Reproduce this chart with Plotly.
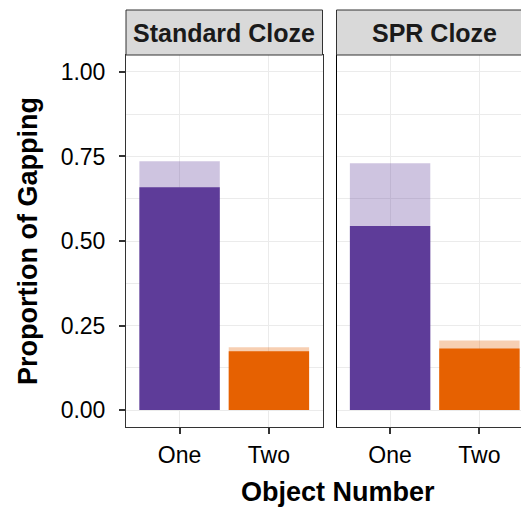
import plotly.graph_objects as go

# ---- data ----
conditions = ["Standard Cloze", "SPR Cloze"]
objects = ["One", "Two"]
object_pos = [1, 2]
total_std = [0.736, 0.186]
solid_std = [0.659, 0.174]
total_spr = [0.730, 0.206]
solid_spr = [0.544, 0.182]
y_ticks = [0, 0.25, 0.5, 0.75, 1.0]
y_minor = [0.125, 0.375, 0.625, 0.875]

solid_colors = ["#5E3C99", "#E66101"]
light_colors = ["rgba(94,60,153,0.3)", "rgba(230,97,1,0.3)"]

W, H = 521, 515
ML, MR, MT, MB = 126, 0, 10, 88
PW = W - ML - MR
PH = H - MT - MB
panel_top = 55
ydom_top = (H - MB - panel_top) / PH
left_end = 322.5
right_start = 336.5
dx1 = [0, (left_end - ML) / PW]
dx2 = [(right_start - ML) / PW, 1]
unit_px = (left_end - ML) / 2.2
right_max = 0.4 + (W - right_start) / unit_px

fig = go.Figure()
panels = [(total_std, solid_std, "x", "y"), (total_spr, solid_spr, "x2", "y2")]
for tot, sol, xa, ya in panels:
    fig.add_trace(go.Bar(x=object_pos, y=tot, width=0.9, marker=dict(color=light_colors, line=dict(width=0)),
                         xaxis=xa, yaxis=ya, hoverinfo="skip"))
    fig.add_trace(go.Bar(x=object_pos, y=sol, width=0.9, marker=dict(color=solid_colors, line=dict(width=0)),
                         xaxis=xa, yaxis=ya, hoverinfo="skip"))

font_family = "Liberation Sans, Arial, sans-serif"
grid = "#EBEBEB"
border = "#333333"

xcommon = dict(tickvals=object_pos, ticktext=objects, showgrid=True, gridcolor=grid, gridwidth=1.2,
               showline=True, linecolor=border, linewidth=1, mirror=True, ticks="outside",
               ticklen=6, tickwidth=1.5, tickcolor=border, zeroline=False,
               tickfont=dict(size=23, color="black", family=font_family), ticklabelstandoff=1)

fig.update_layout(
    width=W, height=H, margin=dict(l=ML, r=MR, t=MT, b=MB),
    plot_bgcolor="white", paper_bgcolor="white", showlegend=False, barmode="overlay",
    font=dict(family=font_family),
    xaxis=dict(domain=dx1, range=[0.4, 2.6], anchor="y", **xcommon),
    xaxis2=dict(domain=dx2, range=[0.4, right_max], anchor="y2", **xcommon),
    yaxis=dict(domain=[0, ydom_top], range=[-0.05, 1.05], tickvals=y_ticks, tickformat=".2f",
               showgrid=True, gridcolor=grid, gridwidth=1.2, zeroline=False,
               minor=dict(tickvals=y_minor, showgrid=True, gridcolor=grid, gridwidth=1, ticks=""),
               showline=True, linecolor=border, linewidth=1, mirror=True, ticks="outside",
               ticklen=6, tickwidth=1.5, tickcolor=border, anchor="x",
               tickfont=dict(size=23, color="black", family=font_family), ticklabelstandoff=9),
    yaxis2=dict(domain=[0, ydom_top], range=[-0.05, 1.05], tickvals=y_ticks, showticklabels=False,
                showgrid=True, gridcolor=grid, gridwidth=1.2, zeroline=False,
                minor=dict(tickvals=y_minor, showgrid=True, gridcolor=grid, gridwidth=1, ticks=""),
                showline=True, linecolor="black", linewidth=1, mirror=False, ticks="", anchor="x2"),
)

# strips
for dom, label in [(dx1, conditions[0]), (dx2, conditions[1])]:
    x1 = dom[1] if dom[1] < 1 else 1.02
    fig.add_shape(type="rect", xref="paper", yref="paper", x0=dom[0], x1=x1, y0=ydom_top, y1=1,
                  fillcolor="#D9D9D9", line=dict(color=border, width=1), layer="above")
    cx = dom[0] + (left_end - ML) / PW / 2
    fig.add_annotation(xref="paper", yref="paper", x=cx, y=(ydom_top + 1) / 2, text="<b>%s</b>" % label,
                       showarrow=False, font=dict(size=25, color="#1A1A1A", family=font_family),
                       xanchor="center", yanchor="middle")

# axis titles
fig.add_annotation(xref="paper", yref="paper", x=(337.5 - ML) / PW, y=-(500 - (H - MB)) / PH,
                   text="<b>Object Number</b>", showarrow=False, yanchor="bottom", yshift=-9,
                   font=dict(size=27, color="black", family=font_family))
fig.add_annotation(xref="paper", yref="paper", x=-(ML - 28) / PW, y=ydom_top / 2, textangle=-90,
                   text="<b>Proportion of Gapping</b>", showarrow=False, xanchor="center", yanchor="middle",
                   font=dict(size=27, color="black", family=font_family))

fig.write_html("out.html", config={"displayModeBar": False},
               post_script="document.body.style.margin='0';")
